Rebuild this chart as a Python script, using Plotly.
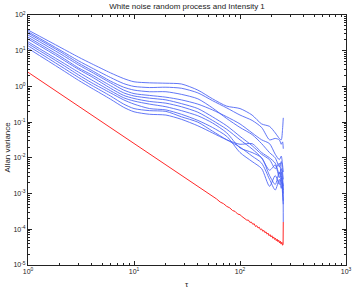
import plotly.graph_objects as go

# ---------------- data ----------------
red_tau = [1, 2, 3, 4, 5, 6, 7, 8, 9, 10, 11, 12, 13, 14, 16, 18, 20, 23, 26, 30,
           34, 38, 42, 46, 50, 55, 60, 65, 70, 75, 80, 85, 90, 95, 100,
           104, 108, 112, 116, 120, 124, 128, 132, 136, 140, 144, 148, 152, 156,
           160, 164, 168, 172, 176, 180, 184, 188, 192, 196, 200, 204, 208, 212,
           216, 220, 224, 228, 232, 236, 240, 244, 248, 252, 255, 256]
red_val = [2.5, 0.63, 0.278, 0.156, 0.1, 0.069, 0.051, 0.039, 0.031, 0.0252,
           0.0212, 0.0178, 0.0149, 0.0127, 0.0098, 0.0077, 0.0062, 0.0047, 0.0037, 0.00278,
           0.00218, 0.00172, 0.00143, 0.00117, 0.00101, 0.00082, 0.00071, 0.00058, 0.00052,
           0.000438, 0.000398, 0.000336, 0.000316, 0.000268, 0.000256,
           2.30e-4, 2.10e-4, 2.04e-4, 1.80e-4, 1.81e-4, 1.56e-4, 1.59e-4, 1.38e-4, 1.43e-4,
           1.20e-4, 1.26e-4, 1.09e-4, 1.14e-4, 0.97e-4, 1.02e-4, 0.88e-4, 0.93e-4,
           0.80e-4, 0.85e-4, 0.73e-4, 0.78e-4, 0.66e-4, 0.71e-4, 0.61e-4, 0.66e-4,
           0.56e-4, 0.61e-4, 0.52e-4, 0.565e-4, 0.48e-4, 0.53e-4, 0.45e-4, 0.495e-4,
           0.415e-4, 0.465e-4, 0.385e-4, 0.435e-4, 0.36e-4, 0.37e-4, 1.6e-4]

blue_tau = [1, 2, 3, 4, 6, 8, 10, 14, 20, 28, 40, 55, 75, 100, 130, 160, 190, 215,
            235, 245, 252, 256]
blue_1 = [38, 12.6, 6.6, 4.3, 2.4, 1.66, 1.35, 1.26, 1.23, 1.17, 0.79, 0.45, 0.28,
          0.24, 0.158, 0.089, 0.076, 0.05, 0.035, 0.032, 0.063, 0.132]
blue_2 = [34, 10.5, 5.2, 3.3, 1.78, 1.2, 1.0, 0.93, 0.95, 0.89, 0.66, 0.40, 0.25,
          0.158, 0.112, 0.071, 0.032, 0.035, 0.032, 0.024, 0.028, 0.018]
blue_3 = [31, 9.5, 4.5, 2.8, 1.41, 0.95, 0.79, 0.71, 0.71, 0.60, 0.45, 0.25, 0.126,
          0.071, 0.045, 0.025, 0.014, 0.010, 0.0056, 0.0079, 0.004, 0.0025]
blue_4 = [27.5, 8.3, 4.0, 2.5, 1.26, 0.79, 0.63, 0.56, 0.50, 0.42, 0.32, 0.22, 0.141,
          0.089, 0.05, 0.032, 0.025, 0.0126, 0.0089, 0.0112, 0.0063, 0.004]
blue_5 = [24, 7.1, 3.3, 2.1, 1.05, 0.66, 0.54, 0.47, 0.42, 0.33, 0.24, 0.141, 0.079,
          0.04, 0.022, 0.0126, 0.0089, 0.005, 0.0071, 0.0032, 0.002, 0.00126]
blue_6 = [21.4, 6.3, 3.0, 1.86, 0.89, 0.56, 0.46, 0.38, 0.34, 0.27, 0.19, 0.112, 0.063,
          0.032, 0.0178, 0.010, 0.0045, 0.0063, 0.0028, 0.004, 0.0018, 0.001]
blue_7 = [17.8, 5.2, 2.5, 1.51, 0.76, 0.48, 0.39, 0.32, 0.27, 0.21, 0.151, 0.095, 0.05,
          0.019, 0.0141, 0.010, 0.0032, 0.0018, 0.004, 0.0022, 0.0014, 0.00063]
blue_8 = [15.8, 4.5, 2.1, 1.26, 0.66, 0.42, 0.32, 0.24, 0.22, 0.166, 0.112, 0.071, 0.04,
          0.0141, 0.0079, 0.005, 0.0016, 0.0032, 0.0018, 0.0028, 0.001, 0.0005]
blue_9 = [13.8, 3.8, 1.78, 1.07, 0.54, 0.32, 0.24, 0.21, 0.20, 0.141, 0.10, 0.056, 0.032,
          0.02, 0.0112, 0.0071, 0.0025, 0.00126, 0.0025, 0.0014, 0.002, 0.00016]
blue_10 = [11.7, 3.2, 1.48, 0.89, 0.44, 0.26, 0.195, 0.166, 0.158, 0.12, 0.079, 0.05, 0.032,
           0.024, 0.025, 0.0141, 0.010, 0.0071, 0.0035, 0.005, 0.0028, 0.0016]
blue_series = [blue_1, blue_2, blue_3, blue_4, blue_5, blue_6, blue_7, blue_8, blue_9, blue_10]

x_tickvals = [1, 10, 100, 1000]
x_ticktext = ["10<sup>0</sup>", "10<sup>1</sup>", "10<sup>2</sup>", "10<sup>3</sup>"]
y_tickvals = [1e-5, 1e-4, 1e-3, 1e-2, 1e-1, 1, 10, 100]
y_ticktext = ["10<sup>-5</sup>", "10<sup>-4</sup>", "10<sup>-3</sup>", "10<sup>-2</sup>",
              "10<sup>-1</sup>", "10<sup>0</sup>", "10<sup>1</sup>", "10<sup>2</sup>"]

title_text = "White noise random process and Intensity 1"
x_title = "τ"
y_title = "Allan variance"

FONT = "Liberation Sans, Arial, Helvetica"
TXT = "#222"

# ---------------- figure ----------------
fig = go.Figure()
for s in blue_series:
    fig.add_trace(go.Scatter(x=blue_tau, y=s, mode="lines",
                             line=dict(color="rgba(70,95,245,0.85)", width=1,
                                       shape="spline", smoothing=0.7),
                             showlegend=False, hoverinfo="skip"))
fig.add_trace(go.Scatter(x=red_tau, y=red_val, mode="lines",
                         line=dict(color="rgb(255,40,40)", width=1),
                         showlegend=False, hoverinfo="skip"))

minor_x = [m * 10 ** e for e in range(0, 3) for m in range(2, 10)]
minor_y = [m * 10.0 ** e for e in range(-5, 2) for m in range(2, 10)]

axis_common = dict(type="log", showgrid=False, zeroline=False, showline=True,
                   linecolor=TXT, linewidth=1, mirror="allticks",
                   ticks="inside", ticklen=4, tickcolor=TXT, automargin=False,
                   tickfont=dict(family=FONT, size=7, color=TXT))

fig.update_layout(
    width=354, height=290,
    margin=dict(l=28, r=8, t=15, b=25),
    paper_bgcolor="white", plot_bgcolor="white",
    title=dict(text=title_text, x=0.5, xref="paper", xanchor="center",
               y=0.99, yanchor="top",
               font=dict(family=FONT, size=8, color=TXT)),
    xaxis=dict(range=[0, 3], tickmode="array", tickvals=x_tickvals, ticktext=x_ticktext,
               minor=dict(tickmode="array", tickvals=minor_x, ticks="inside", ticklen=2,
                          tickcolor=TXT),
               **axis_common),
    yaxis=dict(range=[-5, 2], tickmode="array", tickvals=y_tickvals, ticktext=y_ticktext,
               minor=dict(tickmode="array", tickvals=minor_y, ticks="inside", ticklen=2,
                          tickcolor=TXT),
               **axis_common),
    annotations=[
        dict(text=y_title, xref="paper", yref="paper", x=-0.066, y=0.47,
             xanchor="center", yanchor="middle", textangle=-90, showarrow=False,
             font=dict(family=FONT, size=8, color=TXT)),
        dict(text=x_title, xref="paper", yref="paper", x=0.5, y=-0.05,
             xanchor="center", yanchor="top", showarrow=False,
             font=dict(family=FONT, size=8, color=TXT)),
    ],
)

fig.write_html("out.html", config={"displayModeBar": False},
               post_script="document.body.style.margin='0';")
